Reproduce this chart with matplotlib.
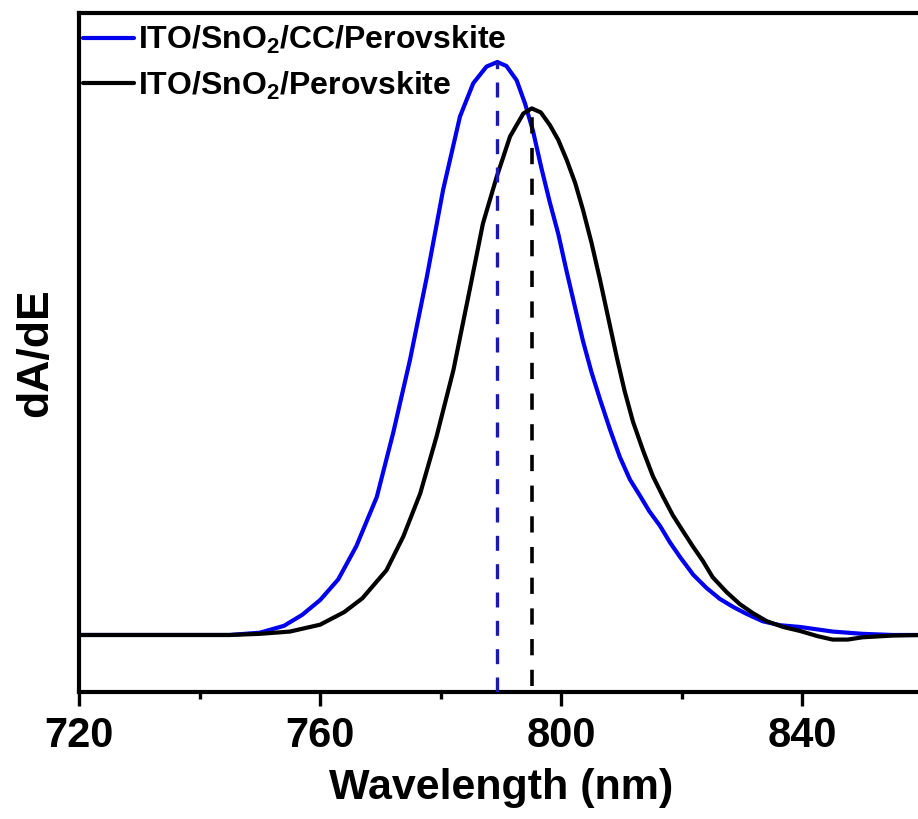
import matplotlib
matplotlib.use("Agg")
import matplotlib.pyplot as plt
import numpy as np

plt.rcParams['font.family'] = ['Liberation Sans', 'DejaVu Sans']
plt.rcParams['font.weight'] = 'bold'
plt.rcParams['mathtext.fontset'] = 'custom'
plt.rcParams['mathtext.rm'] = 'Liberation Sans:bold'
plt.rcParams['mathtext.bf'] = 'Liberation Sans:bold'
plt.rcParams['mathtext.default'] = 'bf'

# ---- data ----
wl_blue = [720, 740, 745, 750, 754, 757, 760, 763, 766, 769.4, 772.1, 774.9, 777.7,
           780.4, 783.2, 785.4, 787.6, 789.4, 790.9, 792.6, 794.0, 795.3, 796.7,
           798.1, 799.5, 800.9, 802.3, 803.6, 805.0, 806.4, 808.1, 809.7, 811.4,
           813.0, 814.6, 816.4, 818.0, 819.7, 821.9, 824.1, 826.3, 828.5, 830.7,
           833.4, 836.3, 839.6, 845, 850, 855, 860]
da_blue = [0, 0, 0.0, 0.004, 0.016, 0.035, 0.061, 0.097, 0.155, 0.241, 0.352, 0.480, 0.625,
           0.777, 0.905, 0.963, 0.992, 1.0, 0.993, 0.968, 0.927, 0.880, 0.815,
           0.755, 0.700, 0.634, 0.571, 0.513, 0.459, 0.412, 0.358, 0.311, 0.271,
           0.244, 0.216, 0.190, 0.162, 0.136, 0.105, 0.082, 0.063, 0.049, 0.037,
           0.024, 0.017, 0.014, 0.006, 0.002, 0.0, 0.0]

wl_black = [720, 745, 750, 755, 760, 764, 767, 771.0, 773.8, 776.6, 779.3, 782.1,
            784.8, 787.0, 789.3, 791.5, 793.7, 795.1, 796.6, 798.1, 799.5, 800.9,
            802.3, 803.6, 805.0, 806.4, 807.8, 809.2, 810.5, 811.9, 813.6, 815.2,
            816.9, 818.5, 820.2, 821.8, 823.5, 825.1, 827.4, 829.6, 831.8, 834.1,
            836.8, 839.6, 842.5, 845, 847.5, 850, 855, 860]
da_black = [0, 0, 0.002, 0.006, 0.018, 0.040, 0.064, 0.113, 0.172, 0.247, 0.346, 0.462,
            0.602, 0.718, 0.800, 0.870, 0.910, 0.919, 0.912, 0.890, 0.864, 0.829,
            0.789, 0.742, 0.685, 0.621, 0.553, 0.485, 0.426, 0.372, 0.321, 0.277,
            0.241, 0.209, 0.181, 0.155, 0.129, 0.101, 0.075, 0.054, 0.038, 0.024,
            0.014, 0.007, -0.002, -0.008, -0.008, -0.004, -0.001, 0.0]

label_blue = "ITO/SnO$_{2}$/CC/Perovskite"
label_black = "ITO/SnO$_{2}$/Perovskite"
xticks = [720, 760, 800, 840]
xminor = [740, 780, 820]

W, H = 918, 819
fig = plt.figure(figsize=(W / 100, H / 100), dpi=100)
ax_left, ax_right, ax_top, ax_bot = 79, 923, 13, 692
ax = fig.add_axes([ax_left / W, (H - ax_bot) / H, (ax_right - ax_left) / W, (ax_bot - ax_top) / H])

ax.plot(wl_blue, da_blue, color='#0000ee', lw=3, label=label_blue,
        solid_capstyle='round', solid_joinstyle='round')
ax.plot(wl_black, da_black, color='black', lw=3, label=label_black,
        solid_capstyle='round', solid_joinstyle='round')

ylo, yhi = -0.0995, 1.0855
ax.set_xlim(720, 860)
ax.set_ylim(ylo, yhi)

ib = int(np.argmax(da_blue))
ik = int(np.argmax(da_black))
ax.plot([wl_blue[ib], wl_blue[ib]], [ylo, da_blue[ib]], color='#1a1ab0', lw=2.4,
        dashes=(4.5, 4), zorder=3)
ax.plot([wl_black[ik], wl_black[ik]], [ylo + 0.01, da_black[ik] - 0.01], color='black', lw=2.6,
        dashes=(4.5, 4), zorder=3)

for s in ['left', 'bottom', 'top']:
    ax.spines[s].set_linewidth(3)
ax.spines['right'].set_visible(False)

ax.set_xticks(xticks)
ax.set_xticks(xminor, minor=True)
ax.set_yticks([])
ax.tick_params(axis='x', which='major', direction='out', length=10, width=2.4,
               labelsize=30, pad=7)
ax.tick_params(axis='x', which='minor', direction='out', length=5, width=2.4)
for t in ax.get_xticklabels():
    t.set_fontweight('bold')

ax.set_xlabel('Wavelength (nm)', fontsize=31, fontweight='bold', labelpad=9)
ax.set_ylabel('dA/dE', fontsize=32, fontweight='bold')
ax.yaxis.set_label_coords(-0.027, 0.5)

leg = ax.legend(loc='upper left', bbox_to_anchor=(4 / 844, 1 - 11 / 679), frameon=False,
                fontsize=23, handlelength=1.6, handletextpad=0.12,
                labelspacing=0.42, borderaxespad=0.0, borderpad=0.0)
for t in leg.get_texts():
    t.set_fontweight('bold')

fig.savefig('out.png', dpi=100)
